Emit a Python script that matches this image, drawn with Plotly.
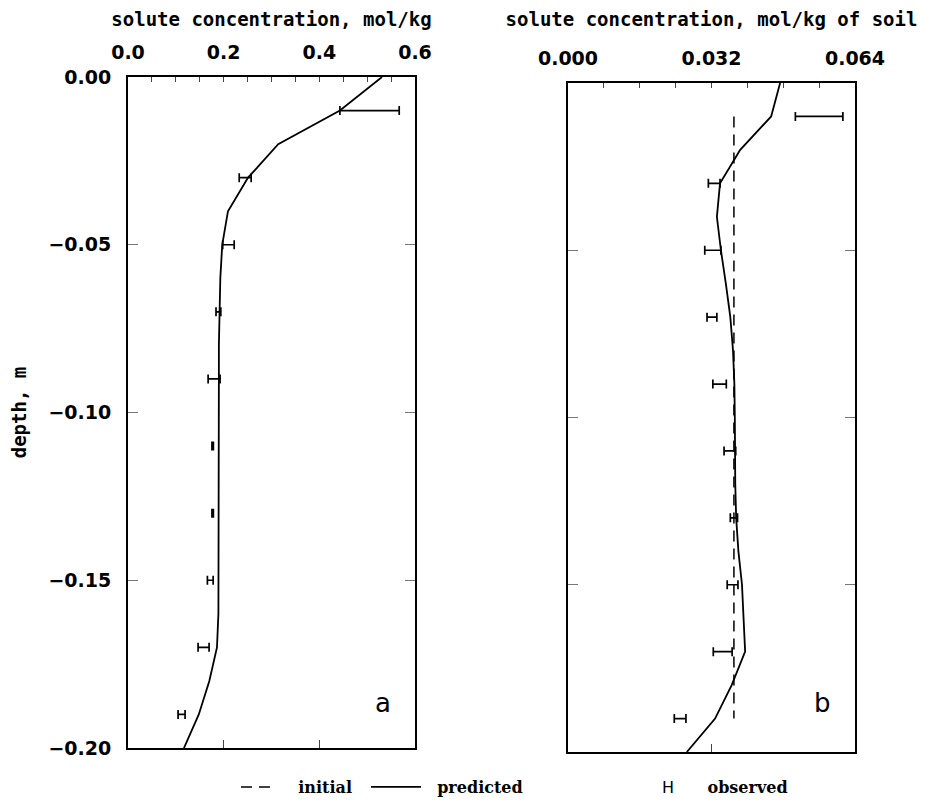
import plotly.graph_objects as go

# ---------------- data ----------------
depth_pred = [0.00, -0.01, -0.02, -0.03, -0.04, -0.05, -0.06, -0.07, -0.08, -0.09, -0.10,
              -0.11, -0.12, -0.13, -0.14, -0.15, -0.16, -0.17, -0.18, -0.19, -0.20]
pred_a = [0.531, 0.443, 0.314, 0.251, 0.209, 0.197, 0.193, 0.191, 0.190, 0.190, 0.190,
          0.190, 0.190, 0.190, 0.190, 0.190, 0.189, 0.186, 0.170, 0.148, 0.117]
pred_b = [0.0473, 0.0453, 0.0384, 0.0339, 0.0332, 0.0341, 0.0352, 0.0362, 0.0368, 0.0371, 0.0372,
          0.0372, 0.0373, 0.0375, 0.0380, 0.0388, 0.0392, 0.0395, 0.0365, 0.0328, 0.0265]

obs_depth = [-0.01, -0.03, -0.05, -0.07, -0.09, -0.11, -0.13, -0.15, -0.17, -0.19]
obs_a = [0.505, 0.245, 0.210, 0.189, 0.180, 0.177, 0.177, 0.172, 0.158, 0.112]
obs_a_err = [0.062, 0.0125, 0.012, 0.005, 0.0125, 0.0015, 0.0015, 0.006, 0.0115, 0.0073]
obs_b = [0.0560, 0.0326, 0.0323, 0.0321, 0.0338, 0.0361, 0.0370, 0.0367, 0.0345, 0.0250]
obs_b_err = [0.0053, 0.0013, 0.0018, 0.0011, 0.0015, 0.0013, 0.0008, 0.0012, 0.0021, 0.0013]

init_depth = [-0.01, -0.19]
init_b = [0.0370, 0.0370]

depth_ticks = [0.00, -0.05, -0.10, -0.15, -0.20]
xa_bottom_ticks = [0.2, 0.4]
xb_bottom_ticks = [0.032]

# ---------------- figure ----------------
PAGE_OFF = 8            # default body margin of the html page
W, H = 947 - PAGE_OFF, 806 - PAGE_OFF
BLACK = "#000000"


def fx(px):
    return (px - PAGE_OFF) / W


def fy(py):
    return 1 - (py - PAGE_OFF) / H


TICKFONT = dict(family="DejaVu Sans", size=19, color=BLACK, weight="bold")
TITLEFONT = dict(family="DejaVu Sans Mono", size=19, color=BLACK, weight="bold")
LEGFONT = dict(family="DejaVu Serif", size=16, color=BLACK, weight="bold")

fig = go.Figure()

# panel a
fig.add_trace(go.Scatter(x=pred_a, y=depth_pred, mode="lines", name="&nbsp;&nbsp;predicted",
                         line=dict(color=BLACK, width=1.8), xaxis="x", yaxis="y",
                         legend="legend2", showlegend=True))
fig.add_trace(go.Scatter(x=obs_a, y=obs_depth, mode="markers",
                         name="<span style='font-family:DejaVu Sans;font-weight:normal'>H</span>&nbsp;&nbsp;&nbsp;&nbsp;&nbsp;&nbsp;observed",
                         marker=dict(size=1, color="rgba(0,0,0,0)"),
                         error_x=dict(type="data", array=obs_a_err, visible=True,
                                      color=BLACK, thickness=1.7, width=4.5),
                         xaxis="x", yaxis="y", legend="legend3", showlegend=True))

# panel b
fig.add_trace(go.Scatter(x=init_b, y=init_depth, mode="lines", name="&nbsp;&nbsp;&nbsp;&nbsp;initial",
                         line=dict(color=BLACK, width=1.5, dash="11px,7px"),
                         xaxis="x2", yaxis="y2", legend="legend", showlegend=True))
fig.add_trace(go.Scatter(x=pred_b, y=depth_pred, mode="lines", name="predicted",
                         line=dict(color=BLACK, width=1.8), xaxis="x2", yaxis="y2",
                         showlegend=False))
fig.add_trace(go.Scatter(x=obs_b, y=obs_depth, mode="markers", name="observed",
                         marker=dict(size=1, color="rgba(0,0,0,0)"),
                         error_x=dict(type="data", array=obs_b_err, visible=True,
                                      color=BLACK, thickness=1.7, width=4.5),
                         xaxis="x2", yaxis="y2", showlegend=False))

xa_dom = [fx(128), fx(415)]
xb_dom = [fx(568), fx(855)]
ya_dom = [fy(748), fy(77)]
yb_dom = [fy(752), fy(83)]

common_top = dict(side="top", showline=True, linecolor=BLACK, linewidth=2,
                  ticks="inside", ticklen=5, tickcolor="#444", tickwidth=1,
                  showgrid=False, zeroline=False, tickfont=TICKFONT, automargin=False,
                  ticklabelstandoff=8, title_font=TITLEFONT, title_standoff=26)

fig.update_layout(
    width=W, height=H, autosize=False,
    margin=dict(l=0, r=0, t=0, b=0),
    paper_bgcolor="white", plot_bgcolor="white",
    font=dict(family="DejaVu Sans", color=BLACK),
    xaxis=dict(domain=xa_dom, anchor="y", range=[0, 0.6], dtick=0.2, tickformat=".1f",
               minor=dict(dtick=0.05, ticks="inside", ticklen=5, tickcolor="#444"),
               title_text="solute concentration, mol/kg", **common_top),
    xaxis3=dict(overlaying="x", matches="x", anchor="y", side="bottom", showline=True,
                linecolor=BLACK, linewidth=2, ticks="inside", ticklen=8, tickcolor="#444",
                tickvals=xa_bottom_ticks, showticklabels=False, showgrid=False, zeroline=False,
                automargin=False),
    yaxis=dict(domain=ya_dom, anchor="x", range=[-0.2, 0], tickvals=depth_ticks,
               tickformat=".2f", showline=True, mirror="ticks", linecolor=BLACK, linewidth=2,
               ticks="inside", ticklen=10, tickcolor="#777", tickwidth=1, automargin=False,
               showgrid=False, zeroline=False, tickfont=TICKFONT, ticklabelstandoff=11,
               title_text="depth, m", title_font=TITLEFONT, title_standoff=38),
    xaxis2=dict(domain=xb_dom, anchor="y2", range=[0, 0.064], dtick=0.032, tickformat=".3f",
                minor=dict(dtick=0.008, ticks="inside", ticklen=5, tickcolor="#444"),
                title_text="solute concentration, mol/kg of soil", **common_top),
    xaxis4=dict(overlaying="x2", matches="x2", anchor="y2", side="bottom", showline=True,
                linecolor=BLACK, linewidth=2, ticks="inside", ticklen=8, tickcolor="#444",
                tickvals=xb_bottom_ticks, showticklabels=False, showgrid=False, zeroline=False,
                automargin=False),
    yaxis2=dict(domain=yb_dom, anchor="x2", range=[-0.2, 0], tickvals=depth_ticks,
                showticklabels=False, showline=True, mirror="ticks", linecolor=BLACK, linewidth=2,
                ticks="inside", ticklen=10, tickcolor="#777", tickwidth=1, automargin=False,
                showgrid=False, zeroline=False),
    legend=dict(orientation="h", x=fx(236), y=fy(787), xanchor="left", yanchor="middle",
                font=LEGFONT, bgcolor="rgba(0,0,0,0)", itemwidth=30),
    legend2=dict(orientation="h", x=fx(366), y=fy(787), xanchor="left", yanchor="middle",
                 font=LEGFONT, bgcolor="rgba(0,0,0,0)", itemwidth=50),
    legend3=dict(orientation="h", x=fx(622), y=fy(787), xanchor="left", yanchor="middle",
                 font=LEGFONT, bgcolor="rgba(0,0,0,0)", itemwidth=30),
    annotations=[
        dict(text="a", xref="x domain", yref="y domain", x=(383 - 128) / 287, y=(748 - 703) / 671,
             xanchor="center", yanchor="middle",
             showarrow=False, font=dict(family="DejaVu Sans", size=26, color=BLACK)),
        dict(text="b", xref="x2 domain", yref="y2 domain", x=(822 - 568) / 287, y=(752 - 703) / 669,
             xanchor="center", yanchor="middle",
             showarrow=False, font=dict(family="DejaVu Sans", size=26, color=BLACK)),
    ],
)

# bottom overlay axes need a (hidden) trace to be drawn
fig.add_trace(go.Scatter(x=[None], y=[None], xaxis="x3", yaxis="y", showlegend=False, hoverinfo="skip"))
fig.add_trace(go.Scatter(x=[None], y=[None], xaxis="x4", yaxis="y2", showlegend=False, hoverinfo="skip"))

fig.write_html("out.html")
